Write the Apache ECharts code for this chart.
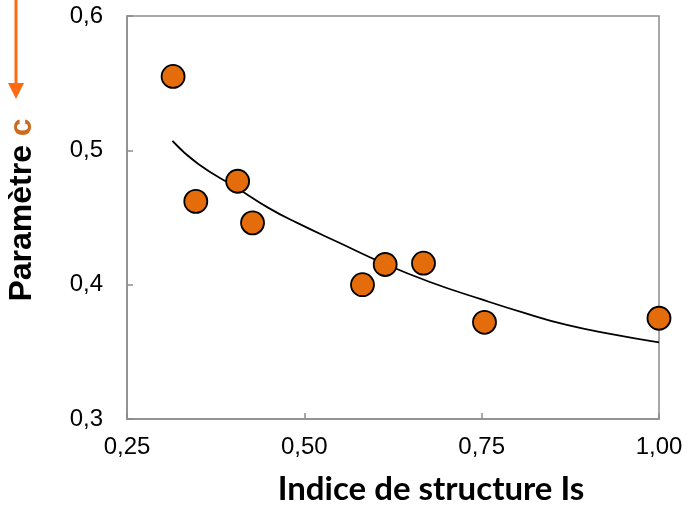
<!DOCTYPE html>
<html>
<head>
<meta charset="utf-8">
<script src="https://cdn.jsdelivr.net/npm/echarts@6/dist/echarts.min.js"></script>
<style>html,body{margin:0;padding:0;background:#fff;}#c{width:693px;height:505px;}</style>
</head>
<body>
<div id="c"></div>
<script>
var pointsX = [0.315, 0.347, 0.406, 0.427, 0.582, 0.614, 0.668, 0.754, 1.000];
var pointsY = [0.555, 0.462, 0.477, 0.446, 0.400, 0.415, 0.416, 0.372, 0.375];
var trendX = [0.314, 0.350, 0.405, 0.450, 0.490, 0.550, 0.611, 0.677, 0.750, 0.810, 0.870, 0.935, 1.000];
var trendY = [0.507, 0.490, 0.472, 0.457, 0.446, 0.431, 0.416, 0.402, 0.389, 0.379, 0.370, 0.363, 0.357];
var xTicks = ['0,25', '0,50', '0,75', '1,00'];
var yTicks = ['0,3', '0,4', '0,5', '0,6'];
var xTitle = 'Indice de structure Is';
var yTitleMain = 'Paramètre ';
var yTitleUnit = 'c';

var chart = echarts.init(document.getElementById('c'), null, {renderer: 'canvas'});
var gray = '#8c8c8c';
chart.setOption({
  animation: false,
  backgroundColor: '#fff',
  grid: {left: 127, top: 16, right: 34, bottom: 86, containLabel: false, outerBoundsMode: 'none',
    show: true, borderColor: gray, borderWidth: 1.5},
  xAxis: {
    type: 'value', min: 0.25, max: 1.0, interval: 0.25,
    axisLine: {show: true, lineStyle: {color: gray, width: 1.5}},
    axisTick: {show: true, inside: true, length: 6, lineStyle: {color: gray, width: 1.5}},
    splitLine: {show: false},
    axisLabel: {color: '#000', fontFamily: 'Liberation Sans', fontSize: 24, margin: 16,
      formatter: function (v) { return xTicks[Math.round((v - 0.25) / 0.25)]; }}
  },
  yAxis: {
    type: 'value', min: 0.3, max: 0.6, interval: 0.1,
    axisLine: {show: true, lineStyle: {color: gray, width: 1.5}},
    axisTick: {show: true, inside: true, length: 6, lineStyle: {color: gray, width: 1.5}},
    splitLine: {show: false},
    axisLabel: {color: '#000', fontFamily: 'Liberation Sans', fontSize: 24, margin: 24,
      formatter: function (v) { return yTicks[Math.round((v - 0.3) / 0.1)]; }}
  },
  graphic: [
    {type: 'text', x: 431, y: 489,
      style: {text: xTitle, align: 'center', verticalAlign: 'middle',
        font: 'bold 33px Lato', fill: '#000'}},
    {type: 'text', x: 22, y: 210, rotation: Math.PI / 2,
      style: {text: '{a|' + yTitleMain + '}{b|' + yTitleUnit + '}', align: 'center', verticalAlign: 'middle',
        rich: {a: {font: 'bold 32px "Liberation Sans"', fill: '#000'},
               b: {font: 'bold 32px "Liberation Sans"', fill: '#CC6A1E'}}}},
    {type: 'line', shape: {x1: 16, y1: 0, x2: 16, y2: 86}, style: {stroke: '#FF6A10', lineWidth: 3}},
    {type: 'polygon', shape: {points: [[8, 83], [24, 83], [16, 99]]}, style: {fill: '#FF6A10'}}
  ],
  series: [
    {type: 'line', data: trendX.map(function (x, i) { return [x, trendY[i]]; }),
      smooth: true, showSymbol: false, symbol: 'none',
      lineStyle: {color: '#000', width: 1.8}, z: 2},
    {type: 'scatter', data: pointsX.map(function (x, i) { return [x, pointsY[i]]; }),
      symbol: 'circle', symbolSize: 23,
      itemStyle: {color: '#E46C0A', borderColor: '#000', borderWidth: 1.8, opacity: 1}, z: 3}
  ]
});
</script>
</body>
</html>
